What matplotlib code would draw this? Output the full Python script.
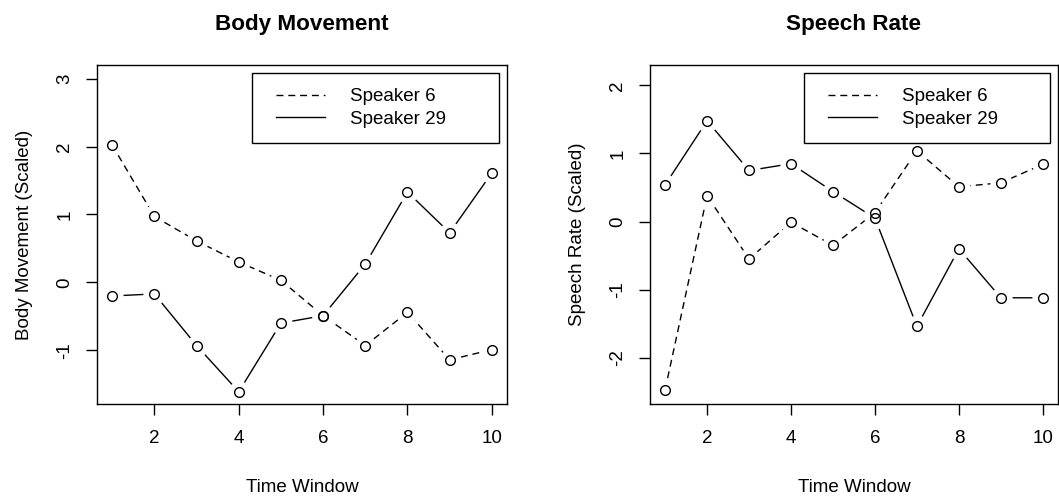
import matplotlib
matplotlib.use("Agg")
import matplotlib.pyplot as plt
from matplotlib.legend_handler import HandlerLine2D
import numpy as np

plt.rcParams['font.family'] = ['Liberation Sans', 'DejaVu Sans']
plt.rcParams['axes.unicode_minus'] = False

time_window = [1, 2, 3, 4, 5, 6, 7, 8, 9, 10]

# body movement (scaled)
body_s6 = [2.02, 0.97, 0.61, 0.30, 0.03, -0.49, -0.93, -0.44, -1.14, -0.99]
body_s29 = [-0.20, -0.17, -0.93, -1.61, -0.60, -0.49, 0.27, 1.33, 0.73, 1.61]

# speech rate (scaled)
speech_s6 = [-2.47, 0.38, -0.55, -0.01, -0.35, 0.13, 1.04, 0.51, 0.57, 0.84]
speech_s29 = [0.54, 1.48, 0.75, 0.85, 0.44, 0.05, -1.54, -0.40, -1.12, -1.12]

panels = [
    ("Body Movement", "Body Movement (Scaled)", body_s6, body_s29, (-1.79, 3.2), [-1, 0, 1, 2, 3]),
    ("Speech Rate", "Speech Rate (Scaled)", speech_s6, speech_s29, (-2.68, 2.30), [-2, -1, 0, 1, 2]),
]
axes_pos = [[0.0916, 0.1888, 0.3872, 0.6807], [0.6138, 0.1888, 0.3852, 0.6807]]

FS = 13.5
DASH = (5, 3.5)

fig = plt.figure(figsize=(10.59, 4.98), dpi=100)

for pos, (title, ylabel, s6, s29, ylim, yticks) in zip(axes_pos, panels):
    ax = fig.add_axes(pos)

    # lines first, then white disks to make the R type="b" gaps, then open circles
    l6, = ax.plot(time_window, s6, color='black', lw=1.0, dashes=DASH, zorder=1)
    l29, = ax.plot(time_window, s29, color='black', lw=1.0, zorder=1)
    for s in (s6, s29):
        ax.plot(time_window, s, ls='none', marker='o', ms=16, mfc='white', mec='none', zorder=2)
    for s in (s6, s29):
        ax.plot(time_window, s, ls='none', marker='o', ms=7, mfc='none', mec='black', mew=1.0, zorder=3)

    ax.set_xlim(0.64, 10.36)
    ax.set_ylim(*ylim)
    ax.set_xticks([2, 4, 6, 8, 10])
    ax.set_yticks(yticks)
    ax.tick_params(direction='out', length=8, width=1.0, labelsize=FS, pad=11)
    ax.tick_params(axis='y', pad=9)
    for lab in ax.get_yticklabels():
        lab.set_rotation(90)
        lab.set_va('center')
    for sp in ax.spines.values():
        sp.set_linewidth(1.0)

    ax.set_title(title, fontsize=16.2, fontweight='bold', pad=25)
    ax.set_xlabel("Time Window", fontsize=FS, labelpad=23)
    ax.set_ylabel(ylabel, fontsize=FS, labelpad=17)

    hm = {l6: HandlerLine2D(xpad=0.48), l29: HandlerLine2D(xpad=0.48)}
    leg = ax.legend([l6, l29], ["Speaker 6", "Speaker 29"], loc='upper left',
                    bbox_to_anchor=(0.378, 0.776, 0.602, 0.2), mode='expand',
                    borderaxespad=0, fontsize=FS, fancybox=False, framealpha=1,
                    edgecolor='black', handlelength=3.1, handletextpad=1.3,
                    borderpad=0.8, labelspacing=0.3, handler_map=hm)
    leg.get_frame().set_linewidth(1.0)

fig.savefig("out.png", dpi=100)
